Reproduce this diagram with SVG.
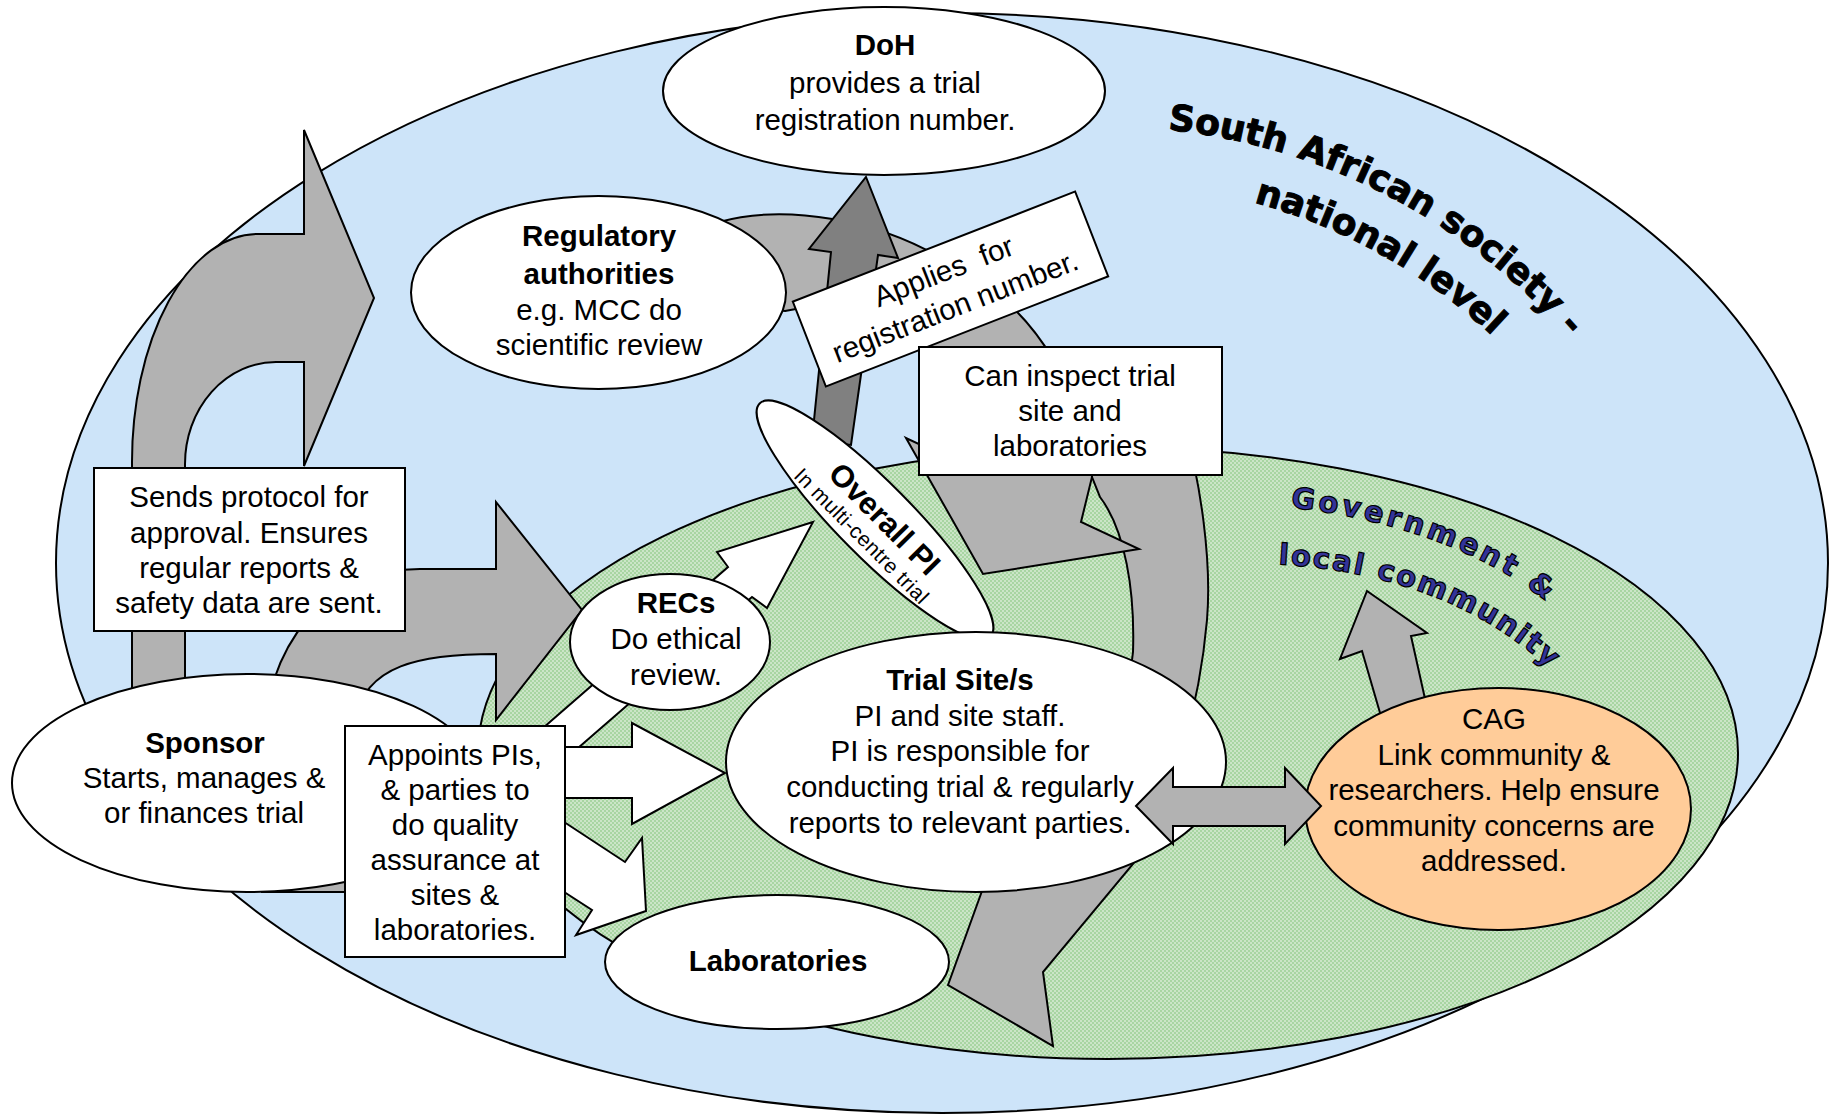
<svg xmlns="http://www.w3.org/2000/svg" width="1833" height="1115" viewBox="0 0 1833 1115">
<defs>
<style>
.node{fill:#fff;stroke:#000;stroke-width:2;}
.box{fill:#fff;stroke:#000;stroke-width:2;}
.ga{fill:#b2b2b2;stroke:#000;stroke-width:2;stroke-linejoin:miter;}
.dk{fill:#808080;stroke:#000;stroke-width:2;}
.wa{fill:#fff;stroke:#000;stroke-width:2;}
.t{font-family:"Liberation Sans",Arial,sans-serif;font-size:29.5px;text-anchor:middle;fill:#000;}
.b{font-weight:bold;}
.big{font-family:"DejaVu Sans",sans-serif;font-weight:bold;font-size:36px;fill:#000;stroke:#000;stroke-width:1;}
.gov{font-family:"DejaVu Sans",sans-serif;font-weight:bold;font-size:29px;fill:#333399;stroke:#000;stroke-width:1.2;}
</style>
<pattern id="dots" width="4" height="4" patternUnits="userSpaceOnUse">
<rect width="4" height="4" fill="#a8d5a2"/>
<circle cx="1" cy="1" r="0.75" fill="#fff"/>
<circle cx="3" cy="3" r="0.75" fill="#fff"/>
</pattern>
<path id="pSA1" d="M 1156 128.4 A 620 620 0 0 1 1685 534"/>
<path id="pSA2" d="M 1203 191 A 564 564 0 0 1 1636 555"/>
<path id="pG1" d="M 1288 507 Q 1470 528 1572 623"/>
<path id="pG2" d="M 1275 564 Q 1460 574 1565 684"/>
</defs>
<rect width="1833" height="1115" fill="#fff"/>
<g id="national-level">
<ellipse cx="942" cy="563" rx="886" ry="550" fill="#cde4f9" stroke="#000" stroke-width="2"/>
</g>
<g id="local-level">
<ellipse cx="1108" cy="753" rx="630" ry="306" fill="url(#dots)" stroke="#000" stroke-width="2"/>
</g>
<g id="connectors">
<path id="arrow-sponsor-regulatory" class="ga" d="M 132 800 L 132 464 A 126 228 0 0 1 258 234 L 304 234 L 304 130 L 374 298 L 304 466 L 304 362 L 276 362 A 91 102 0 0 0 185 464 L 185 800 Z"/>
<path id="arrow-sponsor-recs" class="ga" d="M 262 892 L 262 760 C 262 640 330 569 420 569 L 496 569 L 496 502 L 582 610 L 496 720 L 496 654 C 420 654 365 665 355 720 L 355 892 Z"/>
<path id="arrow-inspect-trial" class="ga" d="M 1090 440 L 1185 430 C 1200 480 1212 560 1207 620 C 1200 700 1175 800 1133 864 L 1043 972 L 1053 1046 L 948 985 L 982 891 C 1060 820 1125 740 1133 652 C 1135 590 1125 530 1100 497 L 1092 477 Z"/>
<path id="arrow-regulatory-inspect" class="ga" d="M 700 250 L 719 222 C 780 205 880 215 960 270 C 1040 310 1085 400 1092 477 L 1081 522 L 1139 549 L 983 574 L 906 438 L 955 461 C 952 410 950 365 915 330 C 880 305 820 303 785 311 L 700 300 Z"/>
<path id="arrow-pi-doh" class="dk" d="M 866 177 L 898 258 L 878 255 L 851 445 L 812 440 L 831 252 L 809 249 Z"/>
<path id="arrow-appoints-pi" class="wa" d="M 520 748 L 728 567 L 717 552 L 813 522 L 767 608 L 752 597 L 540 781 Z"/>
<path id="arrow-appoints-trial" class="wa" d="M 560 747 L 632 747 L 632 723 L 725 773 L 632 824 L 632 798 L 560 798 Z"/>
<path id="arrow-appoints-labs" class="wa" d="M 558 818 L 625 862 L 642 838 L 646 911 L 576 935 L 592 910 L 558 888 Z"/>
<path id="arrow-cag-community" class="ga" d="M 1385 730 L 1362 651 L 1340 659 L 1367 591 L 1427 633 L 1411 636 L 1432 730 Z"/>
</g>
<g id="doh">
<ellipse class="node" cx="884" cy="91" rx="221" ry="84"/>
<text class="t b" x="885" y="55">DoH</text>
<text class="t" x="885" y="93">provides a trial</text>
<text class="t" x="885" y="130">registration number.</text>
</g>
<g id="regulatory">
<ellipse class="node" cx="598.5" cy="292.5" rx="187.5" ry="96.5"/>
<text class="t b" x="599" y="246">Regulatory</text>
<text class="t b" x="599" y="284">authorities</text>
<text class="t" x="599" y="320">e.g. MCC do</text>
<text class="t" x="599" y="355">scientific review</text>
</g>
<g id="sponsor">
<ellipse class="node" cx="247" cy="783" rx="235" ry="109"/>
<text class="t b" x="205" y="753">Sponsor</text>
<text class="t" x="204" y="788">Starts, manages &amp;</text>
<text class="t" x="204" y="823">or finances trial</text>
</g>
<g id="recs">
<ellipse class="node" cx="670" cy="642" rx="100" ry="68"/>
<text class="t b" x="676" y="613">RECs</text>
<text class="t" x="676" y="649">Do ethical</text>
<text class="t" x="676" y="685">review.</text>
</g>
<g id="overall-pi" transform="translate(875,520) rotate(45.3)">
<ellipse class="node" cx="0" cy="0" rx="164" ry="37"/>
<text class="t b" x="6" y="3" style="font-size:31px">Overall PI</text>
<text class="t" x="2" y="28" style="font-size:21px;letter-spacing:0.4px">In multi-centre trial</text>
</g>
<g id="trial-site">
<ellipse class="node" cx="976" cy="762" rx="250" ry="130"/>
<text class="t b" x="960" y="690">Trial Site/s</text>
<text class="t" x="960" y="726">PI and site staff.</text>
<text class="t" x="960" y="761">PI is responsible for</text>
<text class="t" x="960" y="797">conducting trial &amp; regularly</text>
<text class="t" x="960" y="833">reports to relevant parties.</text>
</g>
<g id="laboratories">
<ellipse class="node" cx="777" cy="962" rx="172" ry="67"/>
<text class="t b" x="778" y="971">Laboratories</text>
</g>
<g id="cag">
<ellipse cx="1498" cy="809" rx="193" ry="121" fill="#ffcc99" stroke="#000" stroke-width="2"/>
<text class="t" x="1494" y="729">CAG</text>
<text class="t" x="1494" y="765">Link community &amp;</text>
<text class="t" x="1494" y="800">researchers. Help ensure</text>
<text class="t" x="1494" y="836">community concerns are</text>
<text class="t" x="1494" y="871">addressed.</text>
</g>
<g id="connectors-front">
<path id="arrow-trial-cag" class="ga" d="M 1136 806 L 1173 768 L 1173 787 L 1285 787 L 1285 768 L 1321 806 L 1285 844 L 1285 826 L 1173 826 L 1173 844 Z"/>
</g>
<g id="label-sends">
<rect class="box" x="94" y="468" width="311" height="163"/>
<text class="t" x="249" y="507">Sends protocol for</text>
<text class="t" x="249" y="543">approval. Ensures</text>
<text class="t" x="249" y="578">regular reports &amp;</text>
<text class="t" x="249" y="613">safety data are sent.</text>
</g>
<g id="label-appoints">
<rect class="box" x="345" y="726" width="220" height="231"/>
<text class="t" x="455" y="765">Appoints PIs,</text>
<text class="t" x="455" y="800">&amp; parties to</text>
<text class="t" x="455" y="835">do quality</text>
<text class="t" x="455" y="870">assurance at</text>
<text class="t" x="455" y="905">sites &amp;</text>
<text class="t" x="455" y="940">laboratories.</text>
</g>
<g id="label-applies" transform="translate(950.5,289) rotate(-21.3)">
<rect class="box" x="-151.5" y="-45.5" width="303" height="91"/>
<text class="t" x="0" y="-9">Applies&#160; for</text>
<text class="t" x="-2" y="28">registration number.</text>
</g>
<g id="label-inspect">
<rect class="box" x="919" y="347" width="303" height="128"/>
<text class="t" x="1070" y="386">Can inspect trial</text>
<text class="t" x="1070" y="421">site and</text>
<text class="t" x="1070" y="456">laboratories</text>
</g>
<g id="title-national">
<text class="big"><textPath href="#pSA1" startOffset="12">South African society -</textPath></text>
<text class="big"><textPath href="#pSA2" startOffset="52">national level</textPath></text>
</g>
<g id="title-local">
<text class="gov" style="letter-spacing:3.5px"><textPath href="#pG1" startOffset="2">Government &amp;</textPath></text>
<text class="gov" style="letter-spacing:2px"><textPath href="#pG2" startOffset="3">local community</textPath></text>
</g>
</svg>
